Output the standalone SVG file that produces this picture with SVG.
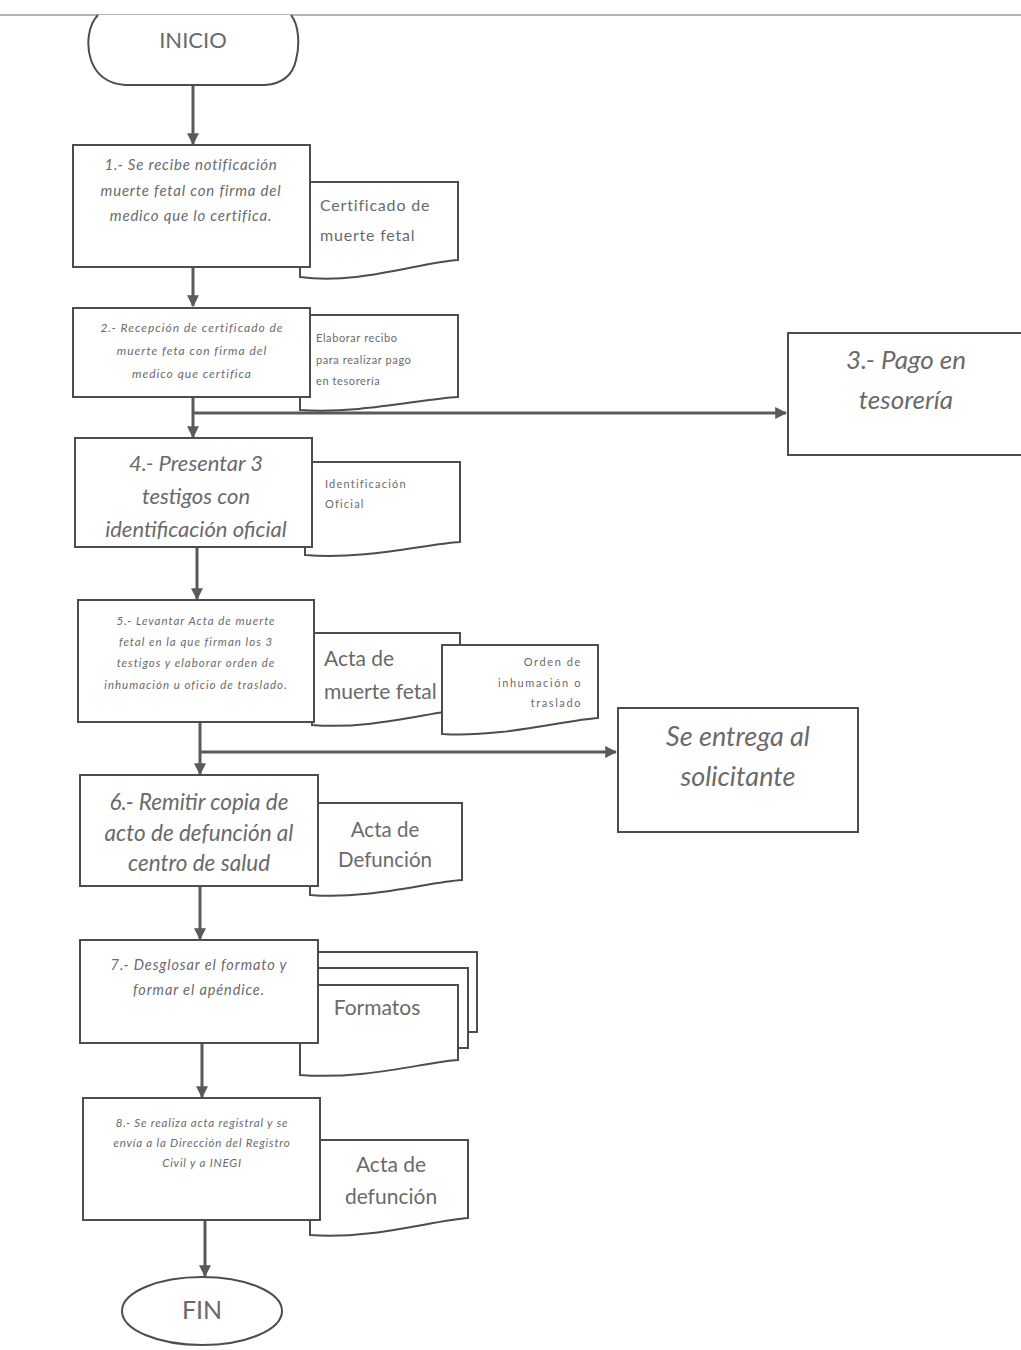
<svg xmlns="http://www.w3.org/2000/svg" width="1021" height="1350" viewBox="0 0 1021 1350">
  <defs>
    <style>
      .box { fill: #fff; stroke: #4d4d4d; stroke-width: 2; }
      .doc { fill: #fff; stroke: #4d4d4d; stroke-width: 2; }
      .term { fill: #fff; stroke: #4d4d4d; stroke-width: 2; }
      .flow { fill: none; stroke: #5a5a5a; stroke-width: 3; }
      .it { font-family: Lato, "Open Sans", sans-serif; font-style: italic; fill: #6a6a6a; text-anchor: middle; }
      .rg { font-family: Lato, "Open Sans", sans-serif; fill: #6a6a6a; }
      .sm { letter-spacing: 1px; }
    </style>
    <marker id="arr" viewBox="0 0 10 10" refX="9" refY="5" markerWidth="4" markerHeight="4" orient="auto">
      <path d="M0,0 L10,5 L0,10 Z" fill="#5a5a5a"/>
    </marker>
  </defs>

  <rect width="1021" height="1350" fill="#fff"/>
  <!-- scan edge line -->
  <line x1="0" y1="15" x2="1021" y2="15" stroke="#9a9a9a" stroke-width="1.5"/>

  <!-- connectors -->
  <g id="connectors">
    <line class="flow" x1="193" y1="86" x2="193" y2="144" marker-end="url(#arr)"/>
    <line class="flow" x1="193" y1="268" x2="193" y2="306" marker-end="url(#arr)"/>
    <line class="flow" x1="193" y1="398" x2="193" y2="437" marker-end="url(#arr)"/>
    <line class="flow" x1="193" y1="413" x2="786" y2="413" marker-end="url(#arr)"/>
    <line class="flow" x1="197" y1="548" x2="197" y2="599" marker-end="url(#arr)"/>
    <line class="flow" x1="200" y1="723" x2="200" y2="774" marker-end="url(#arr)"/>
    <line class="flow" x1="200" y1="752" x2="616" y2="752" marker-end="url(#arr)"/>
    <line class="flow" x1="200" y1="887" x2="200" y2="939" marker-end="url(#arr)"/>
    <line class="flow" x1="202" y1="1044" x2="202" y2="1097" marker-end="url(#arr)"/>
    <line class="flow" x1="205" y1="1221" x2="205" y2="1276" marker-end="url(#arr)"/>
  </g>

  <!-- start terminator -->
  <g id="inicio">
    <path class="term" d="M98,15 C88,25 86,45 91,60 Q99,83 125,85 L265,85 Q291,83 296,60 C300,45 299,25 291,15"/>
    <text class="rg" x="193" y="48" font-size="22" text-anchor="middle">INICIO</text>
  </g>

  <!-- step 1 -->
  <g id="paso1">
    <path class="doc" d="M300,182 H458 V260 C420,262 360,285 300,277 Z"/>
    <text class="rg" x="320" y="211" font-size="16" letter-spacing="0.8">Certificado de</text>
    <text class="rg" x="320" y="241" font-size="16" letter-spacing="0.8">muerte fetal</text>
    <rect class="box" x="73" y="145" width="237" height="122"/>
    <text class="it" x="191" y="170" font-size="15" letter-spacing="0.8">1.- Se recibe notificación</text>
    <text class="it" x="191" y="196" font-size="15" letter-spacing="0.8">muerte fetal con firma del</text>
    <text class="it" x="191" y="221" font-size="15" letter-spacing="0.8">medico que lo certifica.</text>
  </g>

  <!-- step 2 -->
  <g id="paso2">
    <path class="doc" d="M300,315 H458 V397 C420,399 360,414 300,410 Z"/>
    <text class="rg" x="316" y="342" font-size="11" letter-spacing="0.6">Elaborar recibo</text>
    <text class="rg" x="316" y="364" font-size="11" letter-spacing="0.6">para realizar pago</text>
    <text class="rg" x="316" y="385" font-size="11" letter-spacing="0.6">en tesorería</text>
    <rect class="box" x="73" y="308" width="237" height="89"/>
    <text class="it sm" x="192" y="332" font-size="12">2.- Recepción de certificado de</text>
    <text class="it sm" x="192" y="355" font-size="12">muerte feta con firma del</text>
    <text class="it sm" x="192" y="378" font-size="12">medico que certifica</text>
  </g>

  <!-- step 3 -->
  <g id="paso3">
    <rect class="box" x="788" y="333" width="240" height="122"/>
    <text class="it" x="906" y="369" font-size="26">3.- Pago en</text>
    <text class="it" x="906" y="409" font-size="26">tesorería</text>
  </g>

  <!-- step 4 -->
  <g id="paso4">
    <path class="doc" d="M305,462 H460 V542 C425,544 365,560 305,555 Z"/>
    <text class="rg" x="325" y="488" font-size="11" letter-spacing="1.2">Identificación</text>
    <text class="rg" x="325" y="508" font-size="11" letter-spacing="1.2">Oficial</text>
    <rect class="box" x="75" y="438" width="237" height="109"/>
    <text class="it" x="196" y="471" font-size="22">4.- Presentar 3</text>
    <text class="it" x="196" y="504" font-size="22">testigos con</text>
    <text class="it" x="196" y="537" font-size="22">identificación oficial</text>
  </g>

  <!-- step 5 -->
  <g id="paso5">
    <path class="doc" d="M312,633 H460 V710 C430,712 370,730 312,725 Z"/>
    <text class="rg" x="324" y="666" font-size="21">Acta de</text>
    <text class="rg" x="324" y="699" font-size="21">muerte fetal</text>
    <path class="doc" d="M442,645 H598 V718 C565,720 500,738 442,734 Z"/>
    <text class="rg" x="582" y="666" font-size="11" letter-spacing="1.6" text-anchor="end">Orden de</text>
    <text class="rg" x="582" y="687" font-size="11" letter-spacing="1.6" text-anchor="end">inhumación o</text>
    <text class="rg" x="582" y="707" font-size="11" letter-spacing="1.6" text-anchor="end">traslado</text>
    <rect class="box" x="78" y="600" width="236" height="122"/>
    <text class="it sm" x="196" y="625" font-size="11.5">5.- Levantar Acta de muerte</text>
    <text class="it sm" x="196" y="646" font-size="11.5">fetal en la que firman los 3</text>
    <text class="it sm" x="196" y="667" font-size="11.5">testigos y elaborar orden de</text>
    <text class="it sm" x="196" y="689" font-size="11.5">inhumación u oficio de traslado.</text>
  </g>

  <!-- delivery -->
  <g id="entrega">
    <rect class="box" x="618" y="708" width="240" height="124"/>
    <text class="it" x="738" y="746" font-size="27">Se entrega al</text>
    <text class="it" x="738" y="786" font-size="27">solicitante</text>
  </g>

  <!-- step 6 -->
  <g id="paso6">
    <path class="doc" d="M310,803 H462 V880 C428,882 368,900 310,895 Z"/>
    <text class="rg" x="385" y="837" font-size="20.5" text-anchor="middle">Acta de</text>
    <text class="rg" x="385" y="867" font-size="20.5" text-anchor="middle">Defunción</text>
    <rect class="box" x="80" y="775" width="238" height="111"/>
    <text class="it" x="199" y="810" font-size="22.5">6.- Remitir copia de</text>
    <text class="it" x="199" y="841" font-size="22.5">acto de defunción al</text>
    <text class="it" x="199" y="871" font-size="22.5">centro de salud</text>
  </g>

  <!-- step 7 -->
  <g id="paso7">
    <rect class="doc" x="318" y="952" width="159" height="80"/>
    <rect class="doc" x="312" y="968" width="156" height="80"/>
    <path class="doc" d="M300,985 H458 V1060 C425,1062 365,1080 300,1075 Z"/>
    <text class="rg" x="377" y="1015" font-size="21" text-anchor="middle">Formatos</text>
    <rect class="box" x="80" y="940" width="238" height="103"/>
    <text class="it" x="199" y="970" font-size="14.5" letter-spacing="0.9">7.- Desglosar el formato y</text>
    <text class="it" x="199" y="995" font-size="14.5" letter-spacing="0.9">formar el apéndice.</text>
  </g>

  <!-- step 8 -->
  <g id="paso8">
    <path class="doc" d="M310,1140 H468 V1218 C435,1220 370,1240 310,1235 Z"/>
    <text class="rg" x="391" y="1172" font-size="21" text-anchor="middle">Acta de</text>
    <text class="rg" x="391" y="1204" font-size="21" text-anchor="middle">defunción</text>
    <rect class="box" x="83" y="1098" width="237" height="122"/>
    <text class="it" x="202" y="1127" font-size="11.5" letter-spacing="0.8">8.- Se realiza acta registral y se</text>
    <text class="it" x="202" y="1147" font-size="11.5" letter-spacing="0.8">envía a la Dirección del Registro</text>
    <text class="it" x="202" y="1167" font-size="11.5" letter-spacing="0.8">Civil y a INEGI</text>
  </g>

  <!-- end terminator -->
  <g id="fin">
    <ellipse class="term" cx="202" cy="1311" rx="80" ry="34"/>
    <text class="rg" x="202" y="1319" font-size="25" text-anchor="middle">FIN</text>
  </g>
</svg>
